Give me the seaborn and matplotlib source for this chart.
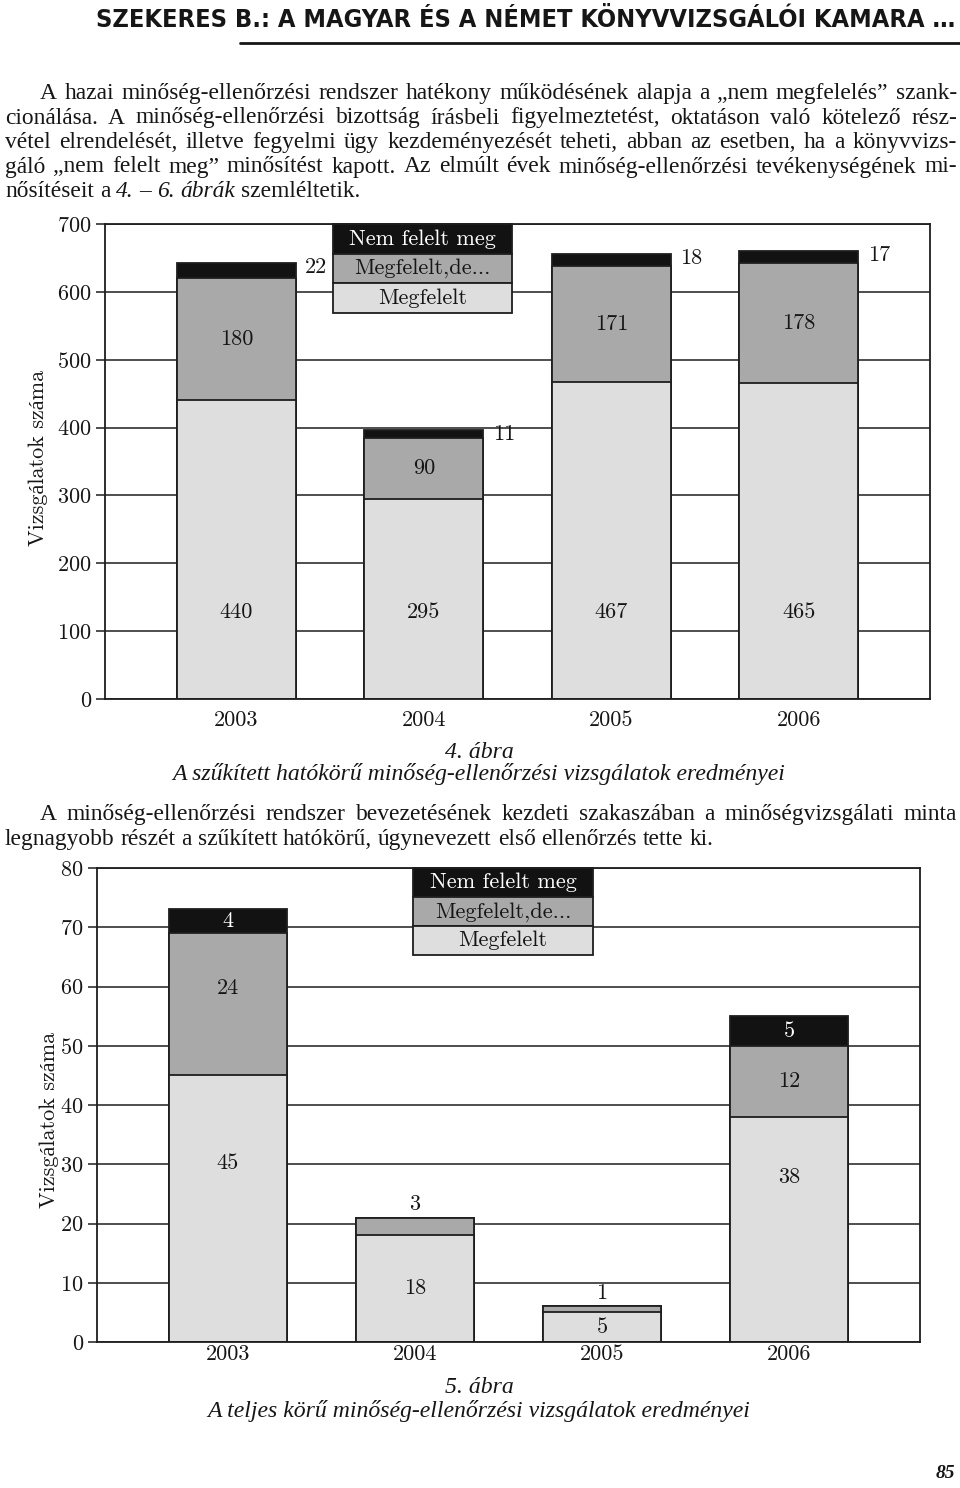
import matplotlib
matplotlib.use("Agg")
import matplotlib.pyplot as plt
import numpy as np
import pandas as pd
import seaborn as sns
from matplotlib import font_manager
from matplotlib.font_manager import FontProperties
from matplotlib.lines import Line2D

# ---------------- data ----------------
years = ["2003", "2004", "2005", "2006"]
series_names = ["Nem felelt meg", "Megfelelt,de...", "Megfelelt"]

fig4_megfelelt = [440, 295, 467, 465]
fig4_megfelelt_de = [180, 90, 171, 178]
fig4_nem_felelt = [22, 11, 18, 17]
fig4_yticks = [0, 100, 200, 300, 400, 500, 600, 700]

fig5_megfelelt = [45, 18, 5, 38]
fig5_megfelelt_de = [24, 3, 1, 12]
fig5_nem_felelt = [4, 0, 0, 5]
fig5_yticks = [0, 10, 20, 30, 40, 50, 60, 70, 80]

y_label = "Vizsgálatok száma"

header_text = "SZEKERES B.: A MAGYAR ÉS A NÉMET KÖNYVVIZSGÁLÓI KAMARA …"
para1_lines = [
    "A hazai minőség-ellenőrzési rendszer hatékony működésének alapja a „nem megfelelés” szank-",
    "cionálása. A minőség-ellenőrzési bizottság írásbeli figyelmeztetést, oktatáson való kötelező rész-",
    "vétel elrendelését, illetve fegyelmi ügy kezdeményezését teheti, abban az esetben, ha a könyvvizs-",
    "gáló „nem felelt meg” minősítést kapott. Az elmúlt évek minőség-ellenőrzési tevékenységének mi-",
    "nősítéseit a |4. – 6. ábrák| szemléltetik.",
]
para2_lines = [
    "A minőség-ellenőrzési rendszer bevezetésének kezdeti szakaszában a minőségvizsgálati minta",
    "legnagyobb részét a szűkített hatókörű, úgynevezett első ellenőrzés tette ki.",
]
cap4_num = "4. ábra"
cap4_title = "A szűkített hatókörű minőség-ellenőrzési vizsgálatok eredményei"
cap5_num = "5. ábra"
cap5_title = "A teljes körű minőség-ellenőrzési vizsgálatok eredményei"
page_number = "85"

# ---------------- style ----------------
W, H = 960, 1488
C_BLACK = "#121212"
C_GRAY = "#a9a9a9"
C_LIGHT = "#dedede"
EDGE = "#1e1e1e"
TXT = "#161616"
BAR_W = 0.635
CHART_FS = 16

sns.set_theme(style="white")
CM = ["cmr10", "Liberation Serif"]
plt.rcParams["font.family"] = CM
plt.rcParams["axes.unicode_minus"] = False
plt.rcParams["axes.formatter.use_mathtext"] = True

SERIF = "Liberation Serif"

# condensed bold sans for the running head, if one is installed
head_file = None
prefs = ["LiberationSansNarrow-Bold", "DejaVuSansCondensed-Bold", "RobotoCondensed-Bold",
         "OpenSansCondensed-Bold", "NotoSans-CondensedBold", "Roboto_Condensed-Bold"]
files = [f.fname for f in font_manager.fontManager.ttflist]
for p in prefs:
    hits = [fn for fn in files if p.lower() in fn.replace(" ", "").lower()
            and "italic" not in fn.lower() and "oblique" not in fn.lower()]
    if hits:
        head_file = hits[0]
        break

fig = plt.figure(figsize=(W / 100, H / 100), dpi=100)
fig.patch.set_facecolor("white")
renderer = fig.canvas.get_renderer()


def fx(x):
    return x / W


def fy(y):
    return 1 - y / H


def head_props(size):
    if head_file:
        return FontProperties(fname=head_file, size=size)
    return FontProperties(family="Liberation Sans", weight="bold", size=size)


def measure(s, size, family, style="normal", weight="normal"):
    t = fig.text(0, 0, s, fontsize=size, family=family, style=style, weight=weight)
    w = t.get_window_extent(renderer).width
    t.remove()
    return w


def parse_words(line):
    parts = line.split("|")
    words = []
    for k, part in enumerate(parts):
        st = "italic" if k % 2 == 1 else "normal"
        for w in part.split():
            words.append((w, st))
    return words


def natural_width(line, size):
    words = parse_words(line)
    sp = measure("a a", size, SERIF) - measure("aa", size, SERIF)
    return sum(measure(w, size, SERIF, st) for w, st in words) + sp * (len(words) - 1)


def draw_line(line, x0, x1, base_y, size, justify):
    words = parse_words(line)
    widths = [measure(w, size, SERIF, st) for w, st in words]
    sp = measure("a a", size, SERIF) - measure("aa", size, SERIF)
    gap = (x1 - x0 - sum(widths)) / (len(words) - 1) if justify and len(words) > 1 else sp
    x = x0
    for (w, st), wd in zip(words, widths):
        fig.text(fx(x), fy(base_y), w, fontsize=size, family=SERIF, style=st,
                 color=TXT, ha="left", va="baseline")
        x += wd + gap


# ---------------- header ----------------
hs = 17.0
t = fig.text(0, 0, header_text, fontproperties=head_props(hs))
hw = t.get_window_extent(renderer).width
t.remove()
hs = min(hs * 858 / hw, 18.5)
fig.text(fx(955), fy(27), header_text, fontproperties=head_props(hs),
         color=TXT, ha="right", va="baseline")
fig.add_artist(Line2D([fx(240), fx(960)], [fy(43), fy(43)], color=TXT, lw=2.0,
                      transform=fig.transFigure))

# ---------------- body text ----------------
bs = 14.0
maxw = max(natural_width(l, bs) - (35 if i == 0 else 0) for i, l in enumerate(para1_lines[:-1]))
bs = bs * (952 - 5) * 0.985 / maxw
p1_base = [99, 123.5, 148, 172.5, 197]
for i, line in enumerate(para1_lines):
    x0 = 40 if i == 0 else 5
    draw_line(line, x0, 957, p1_base[i], bs, justify=(i < len(para1_lines) - 1))

p2_base = [820, 845]
for i, line in enumerate(para2_lines):
    x0 = 40 if i == 0 else 5
    draw_line(line, x0, 957, p2_base[i], bs, justify=(i < len(para2_lines) - 1))

# ---------------- captions ----------------
cs = 14.0
cw = measure(cap4_title, cs, SERIF, "italic")
cs = cs * 615 / cw
for num, title, b1, b2 in [(cap4_num, cap4_title, 758, 780), (cap5_num, cap5_title, 1393, 1417)]:
    fig.text(fx(479), fy(b1), num, fontsize=cs, family=SERIF, style="italic",
             color=TXT, ha="center", va="baseline")
    fig.text(fx(479), fy(b2), title, fontsize=cs, family=SERIF, style="italic",
             color=TXT, ha="center", va="baseline")

fig.text(fx(955), fy(1478), page_number, fontsize=14, family=SERIF, style="italic",
         weight="bold", color=TXT, ha="right", va="baseline")


# ---------------- charts ----------------
def draw_chart(ax, megf, megf_de, nem, yticks, ylab_x, ylab_y, xpad, legend_box):
    df = pd.DataFrame({"year": years, "megf": megf, "de": megf_de, "nem": nem})
    df["lvl2"] = df["megf"] + df["de"]
    df["lvl3"] = df["lvl2"] + df["nem"]
    for col, color in [("lvl3", C_BLACK), ("lvl2", C_GRAY), ("megf", C_LIGHT)]:
        sns.barplot(data=df, x="year", y=col, color=color, saturation=1, width=BAR_W,
                    edgecolor=EDGE, linewidth=1.3, errorbar=None, ax=ax, zorder=2)
    ax.set_xlim(-0.7, 3.7)
    ax.set_ylim(yticks[0], yticks[-1])
    ax.set_yticks(yticks)
    ax.set_axisbelow(True)
    ax.grid(axis="y", color="#1e1e1e", lw=1.1, zorder=0)
    ax.grid(axis="x", visible=False)
    for sp in ax.spines.values():
        sp.set_visible(True)
        sp.set_color(EDGE)
        sp.set_linewidth(1.3)
    ax.tick_params(axis="y", direction="out", length=6.5, width=1.1, color=EDGE,
                   labelsize=CHART_FS, pad=3, labelcolor=TXT, left=True)
    ax.tick_params(axis="x", length=0, labelsize=CHART_FS, pad=xpad, labelcolor=TXT)
    ax.set_xlabel("")
    ax.set_ylabel("")
    ax.text(ylab_x, ylab_y, y_label, rotation=90, transform=ax.transAxes,
            ha="center", va="center", fontsize=CHART_FS, color=TXT)
    tb = ax.table(cellText=[[s] for s in series_names],
                  cellColours=[[C_BLACK], [C_GRAY], [C_LIGHT]],
                  cellLoc="center", bbox=legend_box)
    tb.auto_set_font_size(False)
    tb.set_fontsize(CHART_FS)
    for (r, c), cell in tb.get_celld().items():
        cell.set_edgecolor(EDGE)
        cell.set_linewidth(1.3)
        cell.get_text().set_color("white" if r == 0 else TXT)
        cell.get_text().set_fontfamily(CM)
    tb.set_zorder(5)
    return df


# Chart 4
ax4 = fig.add_axes([105 / W, 1 - 699 / H, 825 / W, 475 / H])
df4 = draw_chart(ax4, fig4_megfelelt, fig4_megfelelt_de, fig4_nem_felelt,
                 fig4_yticks, -0.0812, 0.507, 8, [0.276, 0.8126, 0.217, 0.1874])
for i, r in df4.iterrows():
    ax4.text(i, 0.183, str(r["megf"]), transform=ax4.get_xaxis_transform(),
             ha="center", va="center", fontsize=CHART_FS, color=TXT)
    ax4.text(i, r["megf"] + r["de"] / 2, str(r["de"]), ha="center", va="center",
             fontsize=CHART_FS, color=TXT)
    ax4.text(i + BAR_W / 2 + 0.05, r["lvl3"] - 6, str(r["nem"]), ha="left", va="center",
             fontsize=CHART_FS, color=TXT)

# Chart 5
ax5 = fig.add_axes([97 / W, 1 - 1342 / H, 823 / W, 474 / H])
df5 = draw_chart(ax5, fig5_megfelelt, fig5_megfelelt_de, fig5_nem_felelt,
                 fig5_yticks, -0.058, 0.468, 2, [0.384, 0.816, 0.219, 0.184])
megf_label_frac = [0.67, 0.5, 0.5, 0.73]
de_label_frac = [0.61, 0.5, 0.5, 0.5]
for i, r in df5.iterrows():
    ax5.text(i, r["megf"] * megf_label_frac[i], str(r["megf"]), ha="center", va="center",
             fontsize=CHART_FS, color=TXT)
    if r["de"] < 5:
        ax5.text(i, r["lvl2"] + 2.3, str(r["de"]), ha="center", va="center",
                 fontsize=CHART_FS, color=TXT)
    else:
        ax5.text(i, r["megf"] + r["de"] * de_label_frac[i], str(r["de"]), ha="center",
                 va="center", fontsize=CHART_FS, color=TXT)
    if r["nem"] > 0:
        ax5.text(i, r["lvl2"] + r["nem"] / 2, str(r["nem"]), ha="center", va="center",
                 fontsize=CHART_FS, color="white")

fig.savefig("out.png", dpi=100, facecolor="white")
